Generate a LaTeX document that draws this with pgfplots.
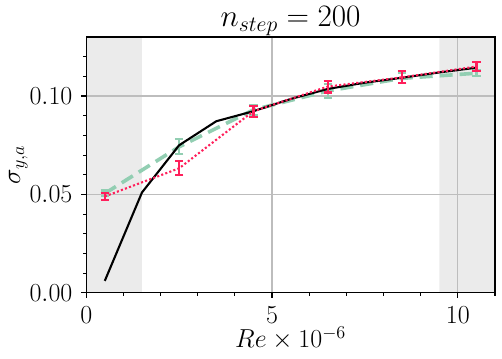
\RequirePackage{fix-cm}
\documentclass[border=0pt]{standalone}
\usepackage{pgfplots}
\pgfplotsset{compat=1.18}
\definecolor{pinkred}{HTML}{FF1F5B}
\definecolor{sagegreen}{HTML}{92CEB2}
\definecolor{spangray}{HTML}{EBEBEB}
\definecolor{gridgray}{HTML}{BDBDBD}
\begin{document}
\fontsize{18.7}{22}\selectfont
\begin{tikzpicture}[every node/.style={font=\fontsize{18.7}{22}\selectfont}]
\begin{axis}[
  set layers,
  scale only axis,
  width=294pt, height=184pt,
  xmin=0, xmax=11, ymin=0, ymax=0.13,
  xtick={0,5,10}, minor xtick={1,2,3,4,6,7,8,9,11},
  ytick={0,0.05,0.10}, minor ytick={0.01,0.02,0.03,0.04,0.06,0.07,0.08,0.09,0.11,0.12},
  yticklabel style={/pgf/number format/.cd, fixed, fixed zerofill, precision=2},
  scaled y ticks=false,
  tick align=outside, xtick pos=bottom, ytick pos=left,
  major tick length=3.5pt, minor tick length=2pt,
  tick style={black, line width=0.8pt},
  grid=major, major grid style={gridgray, line width=0.8pt},
  axis line style={line width=0.8pt},
  tick label style={font=\fontsize{18.7}{22}\selectfont},
  every axis label/.append style={font=\fontsize{18.7}{22}\selectfont},
  every axis title/.style={at={(0.5,1)}, anchor=base, yshift=7.5pt,
    font=\fontsize{22.4}{27}\selectfont},
  title={$n_{step}=200$},
  xlabel={$Re\times10^{-6}$},
  ylabel={$\sigma_{y,a}$},
  xlabel style={at={(axis description cs:0.5,-0.214)}, anchor=base},
  ylabel style={at={(axis description cs:-0.1616,0.5)}, anchor=base},
]
  \addplot[fill=spangray, draw=none, on layer=axis background]
    coordinates {(0,0)(1.5,0)(1.5,0.13)(0,0.13)} \closedcycle;
  \addplot[fill=spangray, draw=none, on layer=axis background]
    coordinates {(9.5,0)(11,0)(11,0.13)(9.5,0.13)} \closedcycle;

  % dashed green series
  \addplot[sagegreen, line width=2.6pt, dash pattern=on 9.4pt off 5pt, mark=none,
    error bars/.cd, y dir=both, y explicit,
    error bar style={sagegreen, line width=1.5pt, solid},
    error mark options={sagegreen, rotate=90, mark size=3pt, line width=1.5pt, solid}]
    coordinates {
      (0.5,0.0505) +- (0,0.0015)
      (2.5,0.0742) +- (0,0.0038)
      (4.5,0.0930) +- (0,0.0025)
      (6.5,0.1026) +- (0,0.0035)
      (8.5,0.1090) +- (0,0.0025)
      (10.5,0.1116) +- (0,0.0015)
    };

  % black solid series
  \addplot[black, line width=1.5pt, mark=none]
    coordinates {
      (0.5,0.0061)(1.5,0.0510)(2.5,0.0750)(3.5,0.0872)(4.5,0.0923)
      (5.5,0.0985)(6.5,0.1036)(7.5,0.1068)(8.5,0.1093)(9.5,0.1120)(10.5,0.1144)
    };

  % dotted pink series
  \addplot[pinkred, line width=1.5pt, dash pattern=on 1.5pt off 1.6pt, mark=none,
    error bars/.cd, y dir=both, y explicit,
    error bar style={pinkred, line width=1.5pt, solid},
    error mark options={pinkred, rotate=90, mark size=3pt, line width=1.5pt, solid}]
    coordinates {
      (0.5,0.0490) +- (0,0.0018)
      (2.5,0.0633) +- (0,0.0036)
      (4.5,0.0923) +- (0,0.0028)
      (6.5,0.1048) +- (0,0.0030)
      (8.5,0.1095) +- (0,0.0030)
      (10.5,0.1150) +- (0,0.0024)
    };
\end{axis}
\pgfresetboundingbox
\path[use as bounding box] (current axis.south west) ++(-62pt,-47pt)
  rectangle ([shift={(5pt,26.6pt)}]current axis.north east);
\end{tikzpicture}
\end{document}
